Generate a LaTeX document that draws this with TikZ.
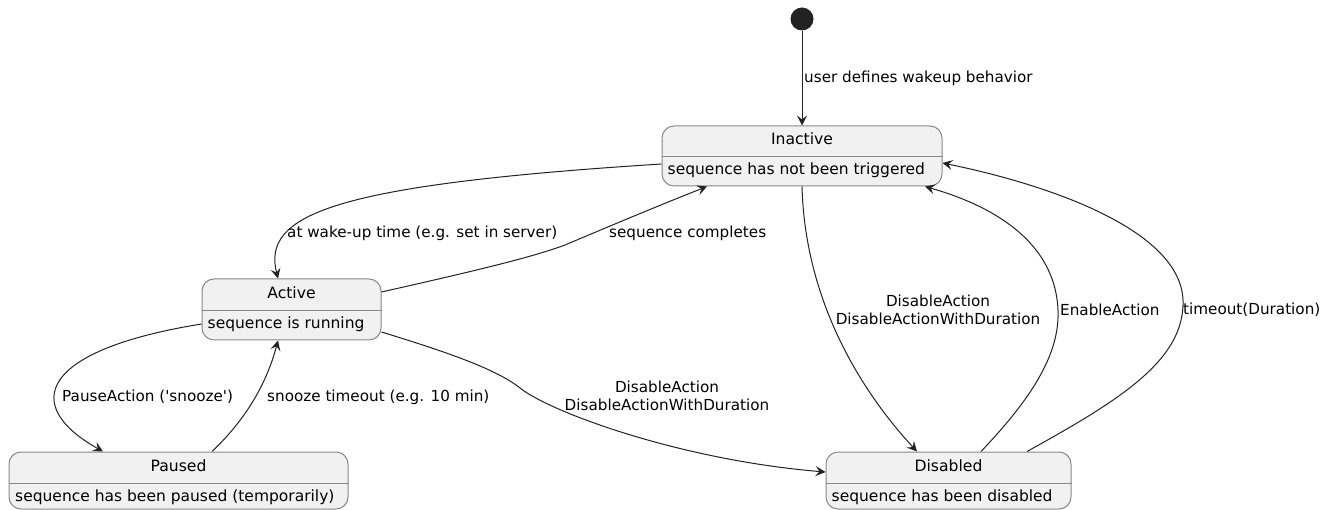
\documentclass[tikz,border=0pt]{standalone}
\usepackage{fontspec}
\setmainfont{DejaVu Sans}
\usepackage{tikz}
\usetikzlibrary{arrows.meta, positioning}

\definecolor{statefill}{HTML}{F1F1F1}
\definecolor{stateline}{HTML}{888888}
\definecolor{edgeline}{HTML}{222222}

\begin{document}
\begin{tikzpicture}[
    x=1pt, y=-1pt,
    font=\fontsize{15.2}{18}\selectfont,
    statebox/.style={rectangle, draw=stateline, fill=statefill, line width=1pt, rounded corners=12pt, inner sep=0pt},
    startdot/.style={circle, fill=edgeline, minimum size=23pt, inner sep=0pt},
    statename/.style={inner sep=0pt, text height=11pt, text depth=3pt, font=\fontsize{15.6}{18}\selectfont},
    statedesc/.style={inner sep=0pt, anchor=west, text height=11pt, text depth=3pt, font=\fontsize{15.5}{18}\selectfont},
    lbl/.style={inner sep=0pt, align=center},
    divider/.style={draw=stateline, line width=1pt},
    arrow/.style={line width=1pt, draw=edgeline, -{Stealth[length=10pt,width=10pt,inset=4pt]}},
]
    \useasboundingbox (0,0) rectangle (1336,510);

    \node[startdot] (start) at (802,19) {};
    \node[statebox, minimum width=280pt, minimum height=60pt] (inactive) at (802,156) {};
    \node[statebox, minimum width=179pt, minimum height=61pt] (active) at (291.5,309.5) {};
    \node[statebox, minimum width=339pt, minimum height=57pt] (paused) at (178.5,480.5) {};
    \node[statebox, minimum width=245pt, minimum height=57pt] (disabled) at (948.5,480.5) {};

    \draw[divider] ([yshift=-1pt]inactive.west) -- ([yshift=-1pt]inactive.east);
    \draw[divider] ([yshift=-1.5pt]active.west) -- ([yshift=-1.5pt]active.east);
    \draw[divider] ([yshift=-2.5pt]paused.west) -- ([yshift=-2.5pt]paused.east);
    \draw[divider] ([yshift=-2.5pt]disabled.west) -- ([yshift=-2.5pt]disabled.east);

    \node[statename] (inactiveN) at ([yshift=15pt]inactive.center) {Inactive};
    \node[statename] (activeN) at ([yshift=14.5pt]active.center) {Active};
    \node[statename] (pausedN) at ([yshift=13.5pt]paused.center) {Paused};
    \node[statename] (disabledN) at ([yshift=13.5pt]disabled.center) {Disabled};

    \node[statedesc] (inactiveD) at ([xshift=6pt, yshift=-15pt]inactive.west) {sequence has not been triggered};
    \node[statedesc] (activeD) at ([xshift=6pt, yshift=-15.5pt]active.west) {sequence is running};
    \node[statedesc] (pausedD) at ([xshift=6.5pt, yshift=-16.5pt]paused.west) {sequence has been paused (temporarily)};
    \node[statedesc] (disabledD) at ([xshift=6pt, yshift=-16.5pt]disabled.west) {sequence has been disabled};

    \draw[arrow] (start) -- (inactive);
    \draw[arrow] ([yshift=-8pt]inactive.west) .. controls (330,185) and (262,215) .. ([xshift=-13.5pt]active.north);
    \draw[arrow] ([yshift=17.5pt]active.east) .. controls (470,272) and (530,258) .. (565,245) .. controls (610,226) and (660,205) .. ([xshift=-95pt]inactive.south);
    \draw[arrow] ([yshift=-14.5pt]active.west) .. controls (40,350) and (20,405) .. ([xshift=-75.5pt]paused.north);
    \draw[arrow] ([xshift=33.5pt]paused.north) .. controls (240,425) and (265,390) .. ([xshift=-13.5pt]active.south);
    \draw[arrow] ([yshift=-22.5pt]active.east) .. controls (440,350) and (495,368) .. (520,388) .. controls (550,412) and (680,460) .. ([yshift=8.5pt]disabled.west);
    \draw[arrow] (inactive.south) .. controls (805,300) and (860,390) .. ([xshift=-31.5pt]disabled.north);
    \draw[arrow] ([xshift=32.5pt]disabled.north) .. controls (1030,400) and (1060,355) .. (1058,310) .. controls (1055,240) and (990,205) .. ([xshift=123pt]inactive.south);
    \draw[arrow] ([xshift=78.5pt]disabled.north) .. controls (1120,400) and (1185,360) .. (1183,300) .. controls (1180,230) and (1050,185) .. ([yshift=-7pt]inactive.east);

    \node[lbl, anchor=west] (userL) at (804,78) {user defines wakeup behavior};
    \node[lbl, anchor=west] (wakeL) at (287,233) {at wake-up time (e.g. set in server)};
    \node[lbl, anchor=west] (doneL) at (609,233) {sequence completes};
    \node[lbl, anchor=west] (pauseL) at (62,397) {PauseAction (\textquotesingle snooze\textquotesingle)};
    \node[lbl, anchor=west] (snoozeL) at (267,397) {snooze timeout (e.g. 10 min)};
    \node[lbl] (disableAL) at (667,396) {DisableAction\\DisableActionWithDuration};
    \node[lbl] (disableIL) at (938,310) {DisableAction\\DisableActionWithDuration};
    \node[lbl, anchor=west] (enableL) at (1060,310) {EnableAction};
    \node[lbl, anchor=west] (timeoutL) at (1183,310) {timeout(Duration)};
\end{tikzpicture}
\end{document}
